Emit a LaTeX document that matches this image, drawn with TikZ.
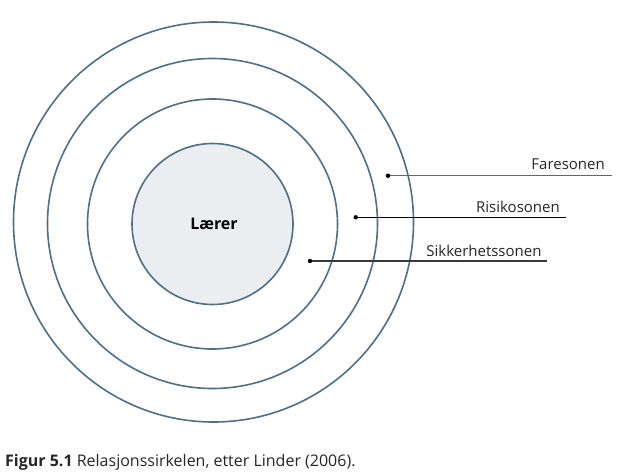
\documentclass[tikz,border=0pt]{standalone}
\usepackage{fontspec}
\setmainfont{Open Sans}
\definecolor{ringblue}{HTML}{4F6F87}
\definecolor{corefill}{HTML}{EBEEF1}
\definecolor{leadgray}{HTML}{3A3A3A}
\begin{document}
\begin{tikzpicture}[x=1pt,y=-1pt,
  ring/.style={circle, draw=ringblue, line width=1.6pt, inner sep=0pt},
  lead/.style={draw=leadgray, line width=1.1pt},
  leaddot/.style={fill=black},
  zonelabel/.style={anchor=base east, inner sep=0pt, font=\fontsize{15}{17}\selectfont, text=black!85}]
\useasboundingbox[fill=white] (0,0) rectangle (619,474);
\node[ring, minimum size=400pt] (fare) at (213.5,222) {};
\node[ring, minimum size=330pt] (risiko) at (212.5,223.5) {};
\node[ring, minimum size=250pt] (sikker) at (212.5,224) {};
\node[ring, minimum size=161pt, fill=corefill, font=\fontsize{16}{18}\selectfont\bfseries] (laerer) at (212.5,224) {\hspace*{3pt}Lærer};
% dots
\coordinate (dfare) at (388,175.7);
\coordinate (drisiko) at (355.7,217.3);
\coordinate (dsikker) at (310,261);
\coordinate (efare) at (611.5,175.7);
\coordinate (erisiko) at (566,217.3);
\coordinate (esikker) at (546.5,261);
\draw[lead, draw=black!60] (dfare) -- (efare);
\draw[lead, draw=black] (drisiko) -- (erisiko);
\draw[lead] (dsikker) -- (esikker);
\fill[leaddot] (dfare) circle (2.2pt);
\fill[leaddot] (drisiko) circle (2.2pt);
\fill[leaddot] (dsikker) circle (2.2pt);
\node[zonelabel] (lfare) at (605,169) {Faresonen};
\node[zonelabel] (lrisiko) at (560,212.5) {Risikosonen};
\node[zonelabel] (lsikker) at (541.7,256) {Sikkerhetssonen};
\node[anchor=base west, inner sep=0pt, font=\fontsize{16}{18}\selectfont, text=black!85] (caption) at (5,466.5) {\textbf{Figur 5.1} Relasjonssirkelen, etter Linder (2006).};
\end{tikzpicture}
\end{document}
